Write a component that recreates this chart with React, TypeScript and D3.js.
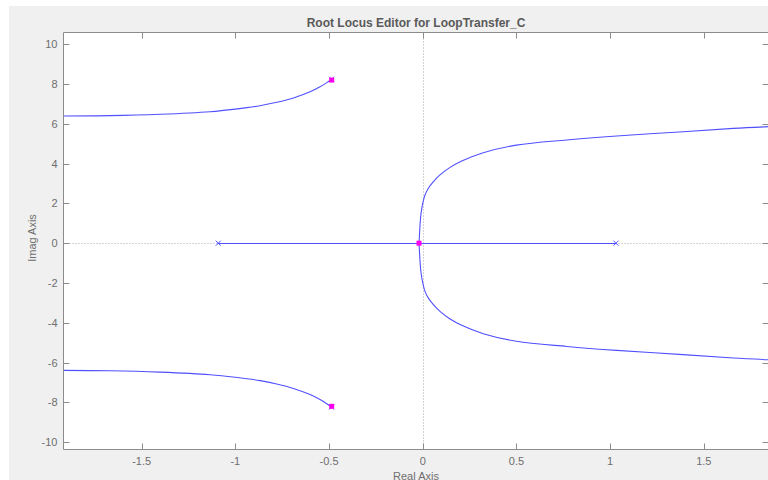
import React from "react";
import * as d3 from "d3";

const xTicks = [-1.5, -1, -0.5, 0, 0.5, 1, 1.5];
const xTickLabels = ["-1.5", "-1", "-0.5", "0", "0.5", "1", "1.5"];
const yTicks = [10, 8, 6, 4, 2, 0, -2, -4, -6, -8, -10];
const yTickLabels = ["10", "8", "6", "4", "2", "0", "-2", "-4", "-6", "-8", "-10"];

// upper right branch (breakaway to +inf), lower is its conjugate
const rightRe = [-0.02, -0.017, -0.014, -0.009, 0.0, 0.012, 0.03, 0.057, 0.092, 0.146, 0.208, 0.323, 0.5, 0.768, 1.035, 1.39, 1.657, 1.85];
const rightIm = [0, 0.5, 1.0, 1.5, 2.0, 2.42, 2.76, 3.09, 3.43, 3.81, 4.13, 4.55, 4.93, 5.19, 5.39, 5.6, 5.77, 5.86];

// upper left branch (complex pole to -inf)
const leftRe = [-0.486, -0.512, -0.548, -0.601, -0.69, -0.779, -0.868, -1.0, -1.135, -1.402, -1.669, -1.95];
const leftIm = [8.24, 8.07, 7.86, 7.61, 7.3, 7.08, 6.91, 6.74, 6.61, 6.48, 6.41, 6.39];

// real axis segment
const realSegRe = [-1.091, 1.031];

// open-loop poles
const polesRe = [-1.091, 1.031, -0.486, -0.486];
const polesIm = [0, 0, 8.24, -8.24];

// closed-loop poles
const clRe = [-0.02, -0.486, -0.486];
const clIm = [0, 8.2, -8.2];

const W = 768;
const H = 480;
const L = 63.5;
const R = 768.5;
const T = 32.5;
const B = 449.5;

export default function App() {
  const x = d3.scaleLinear().domain([-1.917, 1.845]).range([L, R]);
  const y = d3.scaleLinear().domain([-10.37, 10.59]).range([B, T]);

  const line = d3
    .line<[number, number]>()
    .x((d) => x(d[0]))
    .y((d) => y(d[1]))
    .curve(d3.curveCatmullRom.alpha(0.5));

  const upperRight: [number, number][] = rightRe.map((r, i) => [r, rightIm[i]]);
  const lowerRight: [number, number][] = rightRe.map((r, i) => [r, -rightIm[i]]);
  const upperLeft: [number, number][] = leftRe.map((r, i) => [r, leftIm[i]]);
  const lowerLeft: [number, number][] = leftRe.map((r, i) => [r, -leftIm[i]]);

  const axisColor = "#8c8c8c";
  const textColor = "#6e6e6e";
  const locusColor = "#5050ff";
  const font = "'Liberation Sans', Arial, Helvetica, sans-serif";

  return (
    <svg
      width={W}
      height={H}
      style={{ position: "absolute", left: 0, top: 0, display: "block" }}
      fontFamily={font}
    >
      <defs>
        <clipPath id="plotclip">
          <rect x={L} y={T} width={R - L} height={B - T} />
        </clipPath>
      </defs>
      <rect x={0} y={0} width={W} height={H} fill="#ffffff" />
      <rect x={9} y={6} width={W - 9} height={H - 6} fill="#f0f0f0" />
      <rect x={L} y={T} width={R - L} height={B - T} fill="#ffffff" />

      <g clipPath="url(#plotclip)">
        {/* dotted axes */}
        <line x1={L} x2={R} y1={Math.round(y(0)) + 0.5} y2={Math.round(y(0)) + 0.5} stroke="#a8a8a8" strokeWidth={1} strokeDasharray="1,2" />
        <line y1={T} y2={B} x1={Math.round(x(0)) + 0.5} x2={Math.round(x(0)) + 0.5} stroke="#a8a8a8" strokeWidth={1} strokeDasharray="1,2" />

        {/* real axis segment */}
        <line
          x1={x(realSegRe[0])}
          x2={x(realSegRe[1])}
          y1={Math.round(y(0)) + 0.5}
          y2={Math.round(y(0)) + 0.5}
          stroke={locusColor}
          strokeWidth={1}
        />
        {[upperRight, lowerRight, upperLeft, lowerLeft].map((d, i) => (
          <path key={i} d={line(d) || ""} fill="none" stroke={locusColor} strokeWidth={1.1} />
        ))}

        {/* open-loop poles */}
        {polesRe.map((r, i) => {
          const cx = x(r);
          const cy = y(polesIm[i]);
          const s = 2.5;
          return (
            <g key={"p" + i} stroke={locusColor} strokeWidth={1}>
              <line x1={cx - s} y1={cy - s} x2={cx + s} y2={cy + s} />
              <line x1={cx - s} y1={cy + s} x2={cx + s} y2={cy - s} />
            </g>
          );
        })}

        {/* closed-loop poles */}
        {clRe.map((r, i) => (
          <rect key={"c" + i} x={x(r) - 2.5} y={y(clIm[i]) - 2.5} width={5} height={5} fill="#ff00ee" />
        ))}
      </g>

      {/* axes box */}
      <g stroke={axisColor} strokeWidth={1} fill="none">
        <line x1={L} x2={R} y1={T} y2={T} />
        <line x1={L} x2={R} y1={B} y2={B} />
        <line x1={L} x2={L} y1={T} y2={B} />
        <line x1={R} x2={R} y1={T} y2={B} />
        {xTicks.map((t) => {
          const px = Math.round(x(t)) + 0.5;
          return (
            <g key={"xt" + t}>
              <line x1={px} x2={px} y1={B} y2={B - 6} />
              <line x1={px} x2={px} y1={T} y2={T + 6} />
            </g>
          );
        })}
        {yTicks.map((t) => {
          const py = Math.round(y(t)) + 0.5;
          return (
            <g key={"yt" + t}>
              <line x1={L} x2={L + 6} y1={py} y2={py} />
              <line x1={R} x2={R - 6} y1={py} y2={py} />
            </g>
          );
        })}
      </g>

      {/* tick labels */}
      <g fill={textColor} fontSize={11}>
        {xTicks.map((t, i) => (
          <text key={"xl" + t} x={x(t)} y={465} textAnchor="middle">
            {xTickLabels[i]}
          </text>
        ))}
        {yTicks.map((t, i) => (
          <text key={"yl" + t} x={57.5} y={y(t) + 4} textAnchor="end">
            {yTickLabels[i]}
          </text>
        ))}
      </g>

      {/* labels */}
      <text x={(L + R) / 2} y={26.5} textAnchor="middle" fontSize={12} fontWeight="bold" fill="#5a5a5a">
        Root Locus Editor for LoopTransfer_C
      </text>
      <text x={(L + R) / 2} y={479.5} textAnchor="middle" fontSize={11} fill={textColor}>
        Real Axis
      </text>
      <text
        transform={`translate(36, 238) rotate(-90)`}
        textAnchor="middle"
        fontSize={11}
        fill={textColor}
      >
        Imag Axis
      </text>
    </svg>
  );
}
